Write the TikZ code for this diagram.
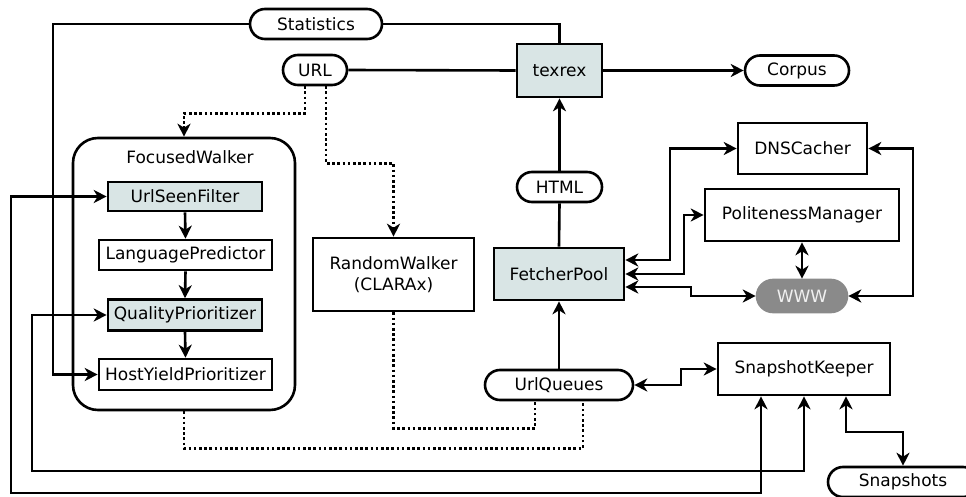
\documentclass[tikz,border=0pt]{standalone}
\usepackage{fontspec}
\setmainfont{DejaVu Sans}
\usetikzlibrary{arrows.meta,shapes.misc,calc}
\definecolor{boxfill}{RGB}{217,229,229}
\definecolor{wwwfill}{RGB}{138,138,138}
\definecolor{wwwtext}{RGB}{240,240,240}
\tikzset{
  base/.style={draw, line width=2.6pt, inner sep=0pt, font=\fontsize{17}{21}\selectfont, text=black},
  box/.style={base, rectangle},
  hbox/.style={box, fill=boxfill},
  pill/.style={base, rounded rectangle, minimum height=30pt},
  conn/.style={line width=2.6pt},
  tip/.tip={Stealth[length=13pt,width=13pt,inset=4pt]},
  arr/.style={conn, -tip},
  darr/.style={conn, tip-tip},
  dots/.style={conn, dash pattern=on 2.6pt off 2.6pt},
  darrow/.style={dots, -tip}
}
\begin{document}
\begin{tikzpicture}[x=1pt, y=-1pt]
\useasboundingbox (0,0) rectangle (966,497);

% nodes
\node[pill, minimum width=132pt] (stat) at (316,24) {Statistics};
\node[pill, minimum width=64pt] (url) at (315,70) {URL};
\node[hbox, minimum width=85pt, minimum height=53pt] (texrex) at (559.5,70.5) {texrex};
\node[pill, minimum width=104pt] (corpus) at (797,70.5) {Corpus};
\node[pill, minimum width=85pt] (html) at (559.5,187) {HTML};
\node[box, minimum width=129pt, minimum height=51pt] (dns) at (802.5,148.5) {DNSCacher};
\node[box, minimum width=194pt, minimum height=52pt] (pm) at (802,215) {PolitenessManager};
\node[hbox, minimum width=130pt, minimum height=52pt] (fp) at (559,274) {FetcherPool};
\node[pill, draw=wwwfill, fill=wwwfill, text=wwwtext, minimum width=90pt, minimum height=32pt] (www) at (802,296) {WWW};
\node[box, minimum width=161pt, minimum height=73pt, align=center] (rw) at (393.5,274.5) {RandomWalker\\(CLARAx)};
\node[pill, minimum width=148pt] (uq) at (559,385) {UrlQueues};
\node[box, minimum width=172pt, minimum height=52pt] (sk) at (804,369) {SnapshotKeeper};
\node[pill, minimum width=150pt] (snaps) at (903,482) {Snapshots};

\node[draw, line width=2.6pt, rounded corners=25pt, minimum width=222pt, minimum height=272pt, inner sep=0pt] (fw) at (184,274) {};
\node[font=\fontsize{17}{21}\selectfont, inner sep=0pt] (fwt) at (190,157) {FocusedWalker};
\node[hbox, minimum width=154pt, minimum height=29pt] (usf) at (185,196.5) {UrlSeenFilter};
\node[box, minimum width=173pt, minimum height=30pt] (lp) at (185.5,255) {LanguagePredictor};
\node[hbox, minimum width=154pt, minimum height=31pt] (qp) at (185,315) {QualityPrioritizer};
\node[box, minimum width=173pt, minimum height=31pt] (hyp) at (185.5,374.5) {HostYieldPrioritizer};

% solid connectors
\draw[conn] (texrex.north) |- (stat.east);
\draw[arr] (stat.west) -| (53,374.5) -- (hyp.west);
\draw[conn] (url.east) -- (texrex.west);
\draw[arr] (texrex.east) -- (corpus.west);
\draw[arr] (html.north) -- (texrex.south);
\draw[conn] (fp.north) -- (html.south);
\draw[arr] (uq.north) -- (fp.south);
\draw[darr] ($(fp.east)+(0,-14)$) -| (670,148.5) -- (dns.west);
\draw[darr] (fp.east) -| (684,215) -- (pm.west);
\draw[darr] ($(fp.east)+(0,13)$) -| (691,296) -- (www.west);
\draw[darr] (pm.south) -- (www.north);
\draw[darr] (dns.east) -| (913,296) -- (www.east);
\draw[darr] (uq.east) -| (681,369) -- (sk.west);
\draw[darr] ($(sk.south)+(42,0)$) |- (903,432) -- (snaps.north);
\draw[darr] ($(sk.south)+(-43,0)$) |- (11,493) |- (usf.west);
\draw[darr] (sk.south) |- (32,471) |- (qp.west);
\draw[arr] (usf.south) -- (lp.north);
\draw[arr] (lp.south) -- (qp.north);
\draw[arr] (qp.south) -- (hyp.north);

% dotted connectors
\draw[darrow] ($(url.south)+(-10,0)$) -- ++(0,27) -| (fw.north);
\draw[darrow] ($(url.south)+(11,0)$) -- ++(0,77) -| (rw.north);
\draw[dots] (rw.south) -- ++(0,116) -| ($(uq.south)+(-24,0)$);
\draw[dots] (fw.south) -- ++(0,37) -| ($(uq.south)+(24,0)$);
\end{tikzpicture}
\end{document}
